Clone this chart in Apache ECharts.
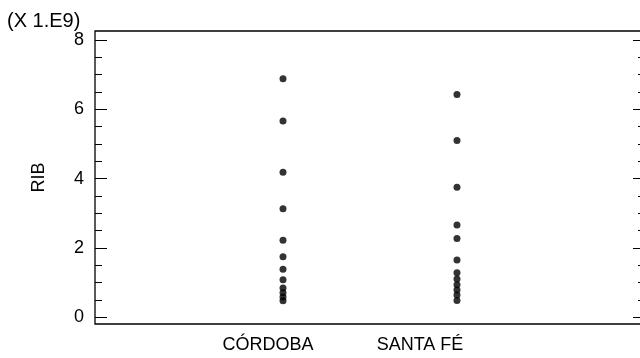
<!DOCTYPE html>
<html><head><meta charset="utf-8">
<script src="https://cdn.jsdelivr.net/npm/echarts@6/dist/echarts.min.js"></script>
<style>html,body{margin:0;padding:0;background:#fff}#c{width:640px;height:358px}</style>
</head><body><div id="c"></div>
<script>
var categories = ['CÓRDOBA', 'SANTA FÉ'];
var cordoba = [6.88, 5.66, 4.18, 3.13, 2.22, 1.74, 1.38, 1.08, 0.84, 0.70, 0.58, 0.47];
var santaFe = [6.43, 5.10, 3.75, 2.66, 2.27, 1.65, 1.28, 1.10, 0.93, 0.78, 0.64, 0.48];
var yMajorTicks = [0, 2, 4, 6, 8];
var yMinorTicks = [0.5, 1, 1.5, 2.5, 3, 3.5, 4.5, 5, 5.5, 6.5, 7, 7.5];
var scaleLabel = '(X 1.E9)';
var yTitle = 'RIB';

var FONT = '"Liberation Sans", Arial, sans-serif';
var pts = [];
cordoba.forEach(function (v) { pts.push([1, v]); });
santaFe.forEach(function (v) { pts.push([2, v]); });

function yAx(pos, ticks, len, labels) {
  return {
    type: 'value', position: pos, offset: 0, min: -0.2, max: 8.26,
    axisLine: { show: false },
    splitLine: { show: false },
    axisTick: { show: len > 0, inside: true, length: len, customValues: ticks, lineStyle: { color: '#000', width: 1 } },
    axisLabel: labels ? { show: true, customValues: ticks, color: '#000', fontSize: 18, fontFamily: FONT, margin: 11 } : { show: false }
  };
}

var chart = echarts.init(document.getElementById('c'), null, { renderer: 'canvas' });
chart.setOption({
  animation: false,
  backgroundColor: '#fff',
  grid: { left: 95, top: 31, width: 550, height: 293, containLabel: false, outerBoundsMode: 'none', show: true, borderColor: '#000', borderWidth: 1.3, backgroundColor: 'transparent' },
  title: { text: scaleLabel, left: 2, top: 6, textStyle: { fontSize: 20, fontWeight: 'normal', color: '#000', fontFamily: FONT } },
  xAxis: {
    type: 'value', min: -0.0805, max: 3.0805,
    axisLine: { show: false }, axisTick: { show: false }, splitLine: { show: false },
    axisLabel: {
      customValues: [1, 2], color: '#000', fontSize: 18, fontFamily: FONT, margin: 12,
      formatter: function (v) { return v === 1 ? '{a|' + categories[0] + '}' : '{b|' + categories[1] + '}'; },
      rich: {
        a: { fontSize: 18, fontFamily: FONT, color: '#000', padding: [0, 30, 0, 0] },
        b: { fontSize: 18, fontFamily: FONT, color: '#000', padding: [0, 74, 0, 0] }
      }
    }
  },
  yAxis: [
    Object.assign(yAx('left', yMajorTicks, 0, true), { name: yTitle, nameLocation: 'middle', nameGap: 47, nameRotate: 90, nameTextStyle: { fontSize: 18, color: '#000', fontFamily: FONT } }),
    yAx('left', yMajorTicks, 12, false),
    yAx('left', yMinorTicks, 7, false),
    yAx('right', yMajorTicks, 12, false),
    yAx('right', yMinorTicks, 7, false)
  ],
  series: [{
    type: 'scatter', data: pts, symbol: 'circle', symbolSize: 7,
    itemStyle: { color: '#000' }
  }]
});
</script></body></html>
